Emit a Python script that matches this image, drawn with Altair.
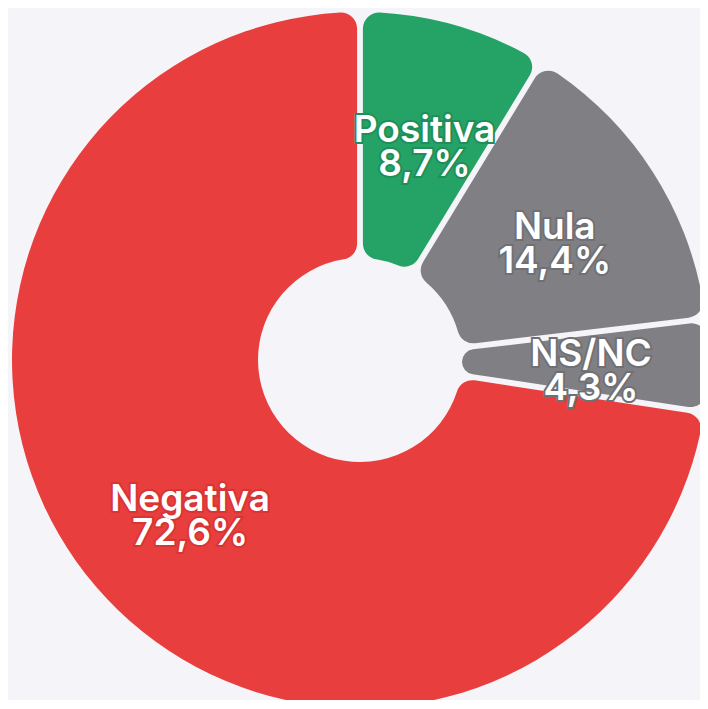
import altair as alt
import pandas as pd

categories = ["Positiva", "Nula", "NS/NC", "Negativa"]
values = [8.7, 14.4, 4.3, 72.6]
pct_labels = ["8,7%", "14,4%", "4,3%", "72,6%"]
colors = ["#25A366", "#808084", "#808084", "#E93E3E"]
outline = ["#1f8f59", "#707074", "#707074", "#d93434"]

df = pd.DataFrame({
    "cat": categories,
    "value": values,
    "idx": list(range(len(categories))),
    "label": [f"{c}\n{p}" for c, p in zip(categories, pct_labels)],
})

color_scale = alt.Scale(domain=categories, range=colors)
outline_scale = alt.Scale(domain=categories, range=outline)

base = alt.Chart(df).encode(
    theta=alt.Theta("value:Q", stack=True),
    order=alt.Order("idx:O"),
)

arcs = base.mark_arc(outerRadius=348, innerRadius=102, padAngle=0.016, cornerRadius=16).encode(
    color=alt.Color("cat:N", scale=color_scale, legend=None)
)

text_kw = dict(radius=228, lineBreak="\n", font="Inter", fontWeight=600, fontSize=37,
               lineHeight=34, align="center", baseline="middle", dx=3, dy=-9)

text_outline = base.mark_text(strokeWidth=4, fill="white", **text_kw).encode(
    text="label:N",
    stroke=alt.Stroke("cat:N", scale=outline_scale, legend=None),
)

text = base.mark_text(color="white", **text_kw).encode(text="label:N")

chart = alt.layer(arcs, text_outline, text).properties(
    width=680, height=680,
    padding={"left": 12, "top": 12, "right": 0, "bottom": 0},
    autosize=alt.AutoSizeParams(type="none"),
    background="#F4F4F9",
).configure_view(stroke=None)

chart.save("out.html", embed_options={"renderer": "svg", "actions": False})
